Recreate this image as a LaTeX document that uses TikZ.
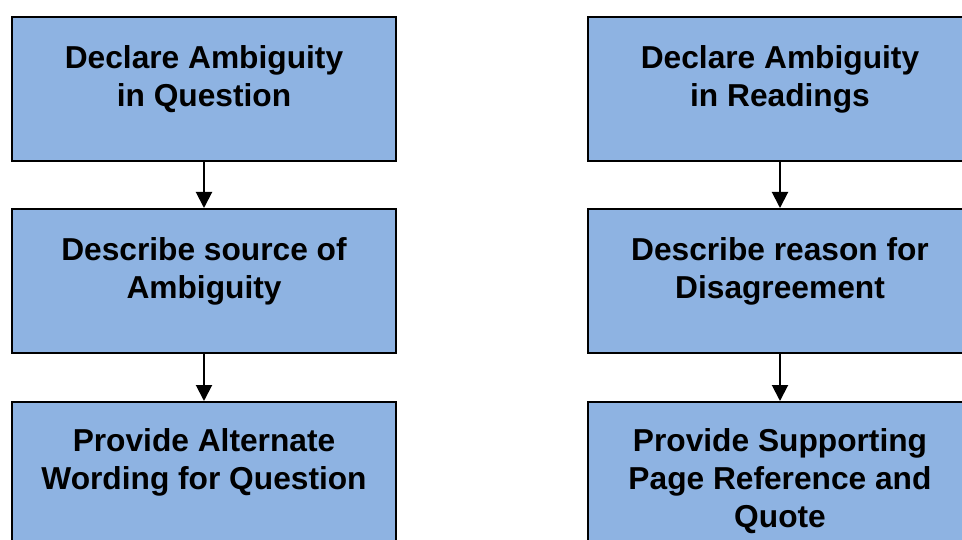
\documentclass[tikz,border=0pt]{standalone}
\usepackage{fontspec}
\setmainfont{Liberation Sans}
\usetikzlibrary{arrows.meta}
\definecolor{boxblue}{HTML}{8EB3E2}
\tikzset{
  stepbox/.style={draw=black, fill=boxblue, line width=2pt,
    minimum width=384pt, minimum height=144pt, inner sep=0pt},
  steptext/.style={anchor=north, align=center, inner sep=0pt,
    font=\fontsize{31.7pt}{38pt}\selectfont\bfseries},
  flow/.style={draw=black, line width=2pt,
    -{Triangle[width=16pt,length=16pt]}}
}
\begin{document}
\begin{tikzpicture}[x=1pt, y=-1pt]
  \useasboundingbox (0,0) rectangle (962,540);
  % left column: ambiguity in the question
  \node[stepbox] (q1) at (204,89) {};
  \node[stepbox] (q2) at (204,281) {};
  \node[stepbox] (q3) at (204,474) {};
  % right column: ambiguity in the readings
  \node[stepbox] (r1) at (780,89) {};
  \node[stepbox] (r2) at (780,281) {};
  \node[stepbox] (r3) at (780,474) {};
  % step labels
  \node[steptext] (q1t) at ([yshift=-29pt]q1.north) {Declare Ambiguity\\in Question};
  \node[steptext] (q2t) at ([yshift=-29pt]q2.north) {Describe source of\\Ambiguity};
  \node[steptext] (q3t) at ([yshift=-27.5pt]q3.north) {Provide Alternate\\Wording for Question};
  \node[steptext] (r1t) at ([yshift=-29pt]r1.north) {Declare Ambiguity\\in Readings};
  \node[steptext] (r2t) at ([yshift=-29pt]r2.north) {Describe reason for\\Disagreement};
  \node[steptext] (r3t) at ([yshift=-27.5pt]r3.north) {Provide Supporting\\Page Reference and\\Quote};
  % connectors
  \draw[flow] (q1.south) -- (q2.north);
  \draw[flow] (q2.south) -- (q3.north);
  \draw[flow] (r1.south) -- (r2.north);
  \draw[flow] (r2.south) -- (r3.north);
\end{tikzpicture}
\end{document}
